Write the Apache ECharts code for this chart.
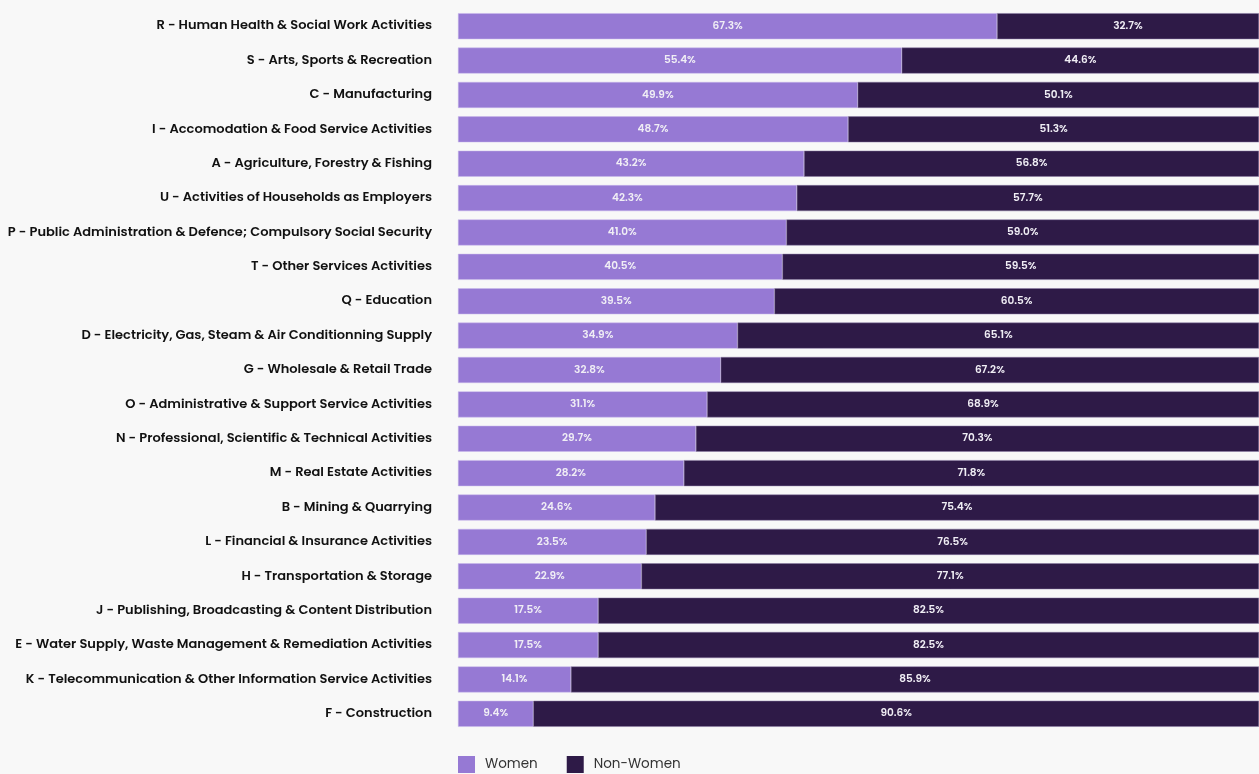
<!DOCTYPE html>
<html>
<head>
<meta charset="utf-8">
<script src="https://cdn.jsdelivr.net/npm/echarts@6/dist/echarts.min.js"></script>
<style>
html,body{margin:0;padding:0;background:#f8f8f8;}
#chart{width:1259px;height:774px;}
</style>
</head>
<body>
<div id="chart"></div>
<script>
const categories = [
  "R - Human Health & Social Work Activities",
  "S - Arts, Sports & Recreation",
  "C - Manufacturing",
  "I - Accomodation & Food Service Activities",
  "A - Agriculture, Forestry & Fishing",
  "U - Activities of Households as Employers",
  "P - Public Administration & Defence; Compulsory Social Security",
  "T - Other Services Activities",
  "Q - Education",
  "D - Electricity, Gas, Steam & Air Conditionning Supply",
  "G - Wholesale & Retail Trade",
  "O - Administrative & Support Service Activities",
  "N - Professional, Scientific & Technical Activities",
  "M - Real Estate Activities",
  "B - Mining & Quarrying",
  "L - Financial & Insurance Activities",
  "H - Transportation & Storage",
  "J - Publishing, Broadcasting & Content Distribution",
  "E - Water Supply, Waste Management & Remediation Activities",
  "K - Telecommunication & Other Information Service Activities",
  "F - Construction"
];
const women = [67.3,55.4,49.9,48.7,43.2,42.3,41.0,40.5,39.5,34.9,32.8,31.1,29.7,28.2,24.6,23.5,22.9,17.5,17.5,14.1,9.4];
const nonWomen = [32.7,44.6,50.1,51.3,56.8,57.7,59.0,59.5,60.5,65.1,67.2,68.9,70.3,71.8,75.4,76.5,77.1,82.5,82.5,85.9,90.6];

const font = "Poppins, 'Open Sans', 'Noto Sans', sans-serif";
const chart = echarts.init(document.getElementById('chart'));
const labelStyle = {
  show: true, position: 'inside', color: '#f0eef5', fontSize: 10.5, fontWeight: 600,
  fontFamily: font,
  formatter: p => p.value.toFixed(1) + '%'
};
chart.setOption({
  backgroundColor: '#f8f8f8',
  animation: false,
  grid: { left: 458, right: 0, top: 9, bottom: 43 },
  xAxis: { type: 'value', min: 0, max: 100, show: false },
  yAxis: {
    type: 'category', data: categories, inverse: true,
    axisLine: { show: false }, axisTick: { show: false },
    axisLabel: { color: '#111', fontSize: 13, fontWeight: 600, fontFamily: font, margin: 26 }
  },
  legend: {
    left: 453, bottom: -4, itemWidth: 17, itemHeight: 17, itemGap: 29,
    icon: 'rect',
    itemStyle: { borderWidth: 0 },
    textStyle: { color: '#333', fontSize: 13.5, fontFamily: font, padding: [0,0,0,5] },
    data: ['Women', 'Non-Women']
  },
  series: [
    { name: 'Women', type: 'bar', stack: 't', data: women, barWidth: 26,
      itemStyle: { color: '#9679d4', borderColor: '#c9b9ec', borderWidth: 0.5 }, label: labelStyle },
    { name: 'Non-Women', type: 'bar', stack: 't', data: nonWomen, barWidth: 26,
      itemStyle: { color: '#2e1a47', borderColor: '#8a7aa5', borderWidth: 0.5 }, label: labelStyle }
  ]
});
</script>
</body>
</html>
